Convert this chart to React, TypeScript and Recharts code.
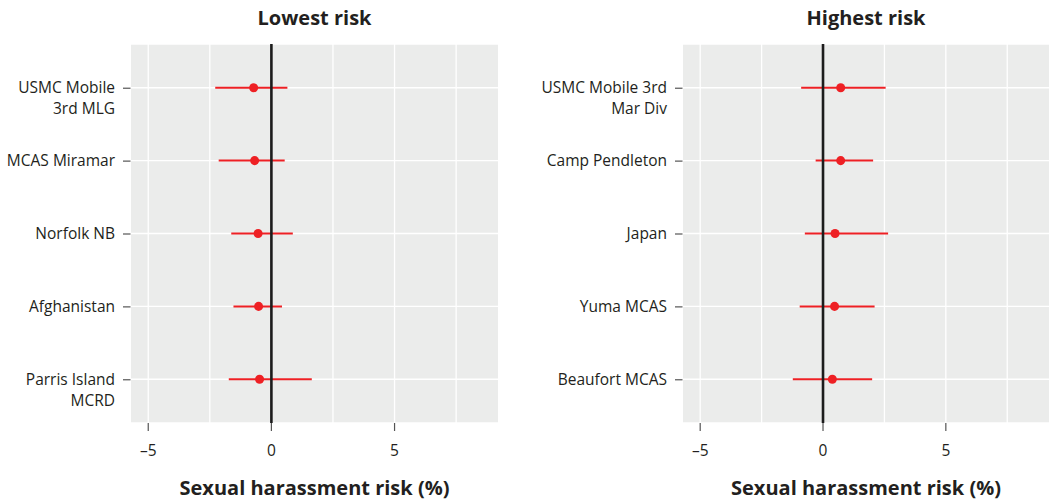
import {
  ComposedChart,
  Scatter,
  XAxis,
  YAxis,
  ZAxis,
  CartesianGrid,
  ReferenceLine,
  ErrorBar,
} from 'recharts';

// Lowest risk installations (top to bottom)
const lowestSites = ['USMC Mobile\n3rd MLG', 'MCAS Miramar', 'Norfolk NB', 'Afghanistan', 'Parris Island\nMCRD'];
const lowestEst = [-0.72, -0.68, -0.54, -0.52, -0.48];
const lowestLo = [-2.28, -2.14, -1.63, -1.54, -1.73];
const lowestHi = [0.65, 0.54, 0.87, 0.43, 1.64];

// Highest risk installations (top to bottom)
const highestSites = ['USMC Mobile 3rd\nMar Div', 'Camp Pendleton', 'Japan', 'Yuma MCAS', 'Beaufort MCAS'];
const highestEst = [0.72, 0.72, 0.49, 0.47, 0.38];
const highestLo = [-0.89, -0.3, -0.74, -0.95, -1.23];
const highestHi = [2.55, 2.04, 2.65, 2.1, 2.0];

const xTicks = [-5, 0, 5];
const xGrid = [-5, -2.5, 0, 2.5, 5, 7.5];
const rowTicks = [1, 2, 3, 4, 5];

const RED = '#ee2024';
const INK = '#231f20';
const FONT = '"Open Sans", "Noto Sans", sans-serif';

interface PanelProps {
  title: string;
  sites: string[];
  est: number[];
  lo: number[];
  hi: number[];
  left: number;
  width: number;
  yWidth: number;
  rightMargin: number;
}

function SiteTick(props: any) {
  const { payload, sites } = props;
  const x = Number(props.x);
  const y = Number(props.y);
  const label: string = sites[sites.length - payload.value] ?? '';
  const lines = label.split('\n');
  return (
    <g>
      <path d={`M${x + 8},${y + 0.5}H${x + 15.5}`} stroke="#555" strokeWidth={1.2} fill="none" />
      <text x={x} y={y} textAnchor="end" fontSize={15.5} fill={INK} fontFamily={FONT}>
        {lines.map((l, i) => (
          <tspan key={i} x={x} dy={i === 0 ? '0.35em' : 21}>
            {l}
          </tspan>
        ))}
      </text>
    </g>
  );
}

function NumTick(props: any) {
  const { payload } = props;
  const x = Number(props.x);
  const y = Number(props.y);
  const v: number = payload.value;
  const txt = v < 0 ? `\u2013${Math.abs(v)}` : `${v}`;
  return (
    <g>
      <path d={`M${x},${y - 22}V${y - 14}`} stroke="#555" strokeWidth={1.2} fill="none" />
      <text x={x} y={y} dy="0.71em" textAnchor="middle" fontSize={15.5} fill={INK} fontFamily={FONT}>
        {txt}
      </text>
    </g>
  );
}

function Panel({ title, sites, est, lo, hi, left, width, yWidth, rightMargin }: PanelProps) {
  const rows = sites.map((s, i) => ({
    site: s,
    y: sites.length - i,
    x: est[i],
    err: [est[i] - lo[i], hi[i] - est[i]],
  }));
  const plotW = width - yWidth - rightMargin;

  return (
    <div style={{ position: 'absolute', left, top: 0, width, height: 502 }}>
      <div
        style={{
          position: 'absolute',
          left: yWidth,
          width: plotW,
          top: 4,
          textAlign: 'center',
          fontFamily: FONT,
          fontWeight: 700,
          fontSize: 20,
          color: INK,
        }}
      >
        {title}
      </div>
      <ComposedChart
        width={width}
        height={502}
        data={rows}
        margin={{ top: 44, right: rightMargin, bottom: 0, left: 0 }}
      >
        <CartesianGrid fill="#ebeceb" stroke="#ffffff" strokeWidth={1.3} vertical={false} />
        {xGrid.map(v => (
          <ReferenceLine key={v} x={v} stroke="#ffffff" strokeWidth={1.3} />
        ))}
        <XAxis
          type="number"
          dataKey="x"
          domain={[-5.7, 9.2]}
          allowDataOverflow
          ticks={xTicks}
          axisLine={false}
          tickLine={false}
          tickSize={6}
          tickMargin={16}
          tick={<NumTick />}
          height={79}
          label={{
            value: 'Sexual harassment risk (%)',
            position: 'insideBottom',
            offset: 7,
            style: { fontSize: 20, fontWeight: 700, fill: INK, fontFamily: FONT },
          }}
        />
        <YAxis
          type="number"
          dataKey="y"
          domain={[0.4, 5.6]}
          allowDataOverflow
          ticks={rowTicks}
          width={yWidth}
          axisLine={false}
          tickLine={false}
          tickSize={6}
          tickMargin={10}
          tick={<SiteTick sites={sites} />}
        />
        <ZAxis range={[64, 64]} />
        <Scatter dataKey="x" fill={RED} isAnimationActive={false}>
          <ErrorBar dataKey="err" direction="x" width={0} stroke={RED} strokeWidth={2} />
        </Scatter>
        <ReferenceLine x={0} stroke="#1c1c1c" strokeWidth={2.6} />
      </ComposedChart>
    </div>
  );
}

export default function App() {
  return (
    <div style={{ position: 'absolute', left: 0, top: 0, width: 1051, height: 502, background: '#fff' }}>
      <Panel
        title="Lowest risk"
        sites={lowestSites}
        est={lowestEst}
        lo={lowestLo}
        hi={lowestHi}
        left={0}
        width={525}
        yWidth={131}
        rightMargin={27}
      />
      <Panel
        title="Highest risk"
        sites={highestSites}
        est={highestEst}
        lo={highestLo}
        hi={highestHi}
        left={525}
        width={526}
        yWidth={158}
        rightMargin={2}
      />
    </div>
  );
}
